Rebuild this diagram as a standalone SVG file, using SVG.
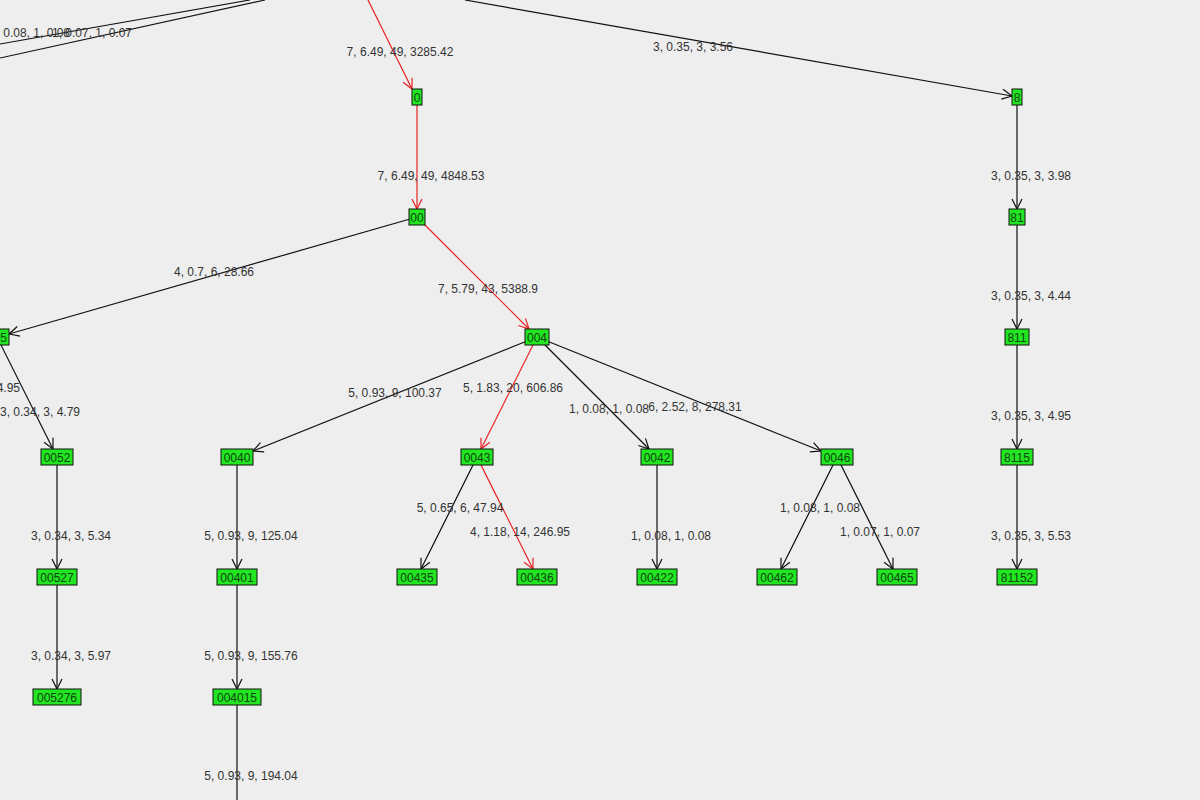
<svg xmlns="http://www.w3.org/2000/svg" width="1200" height="800" viewBox="0 0 1200 800">
<style>
.e{stroke:#111;stroke-width:1.2;fill:none;marker-end:url(#ab)}
.r{stroke:#e82020;stroke-width:1.2;fill:none;marker-end:url(#ar)}
.n rect{fill:#22e622;stroke:#111;stroke-width:1}
.n text{font-family:"Liberation Sans",Arial,sans-serif;font-size:12px;fill:#114411;text-anchor:middle}
.l{font-family:"Liberation Sans",Arial,sans-serif;font-size:12px;fill:#333;text-anchor:middle}
</style>
<defs>
<marker id="ab" markerUnits="userSpaceOnUse" markerWidth="12" markerHeight="12" refX="11" refY="6" orient="auto"><path d="M1,1 L11,6 L1,11" fill="none" stroke="#111" stroke-width="1.2"/></marker>
<marker id="ar" markerUnits="userSpaceOnUse" markerWidth="12" markerHeight="12" refX="11" refY="6" orient="auto"><path d="M1,1 L11,6 L1,11" fill="none" stroke="#e82020" stroke-width="1.2"/></marker>
</defs>
<rect width="1200" height="800" fill="#eeeeee"/>
<g id="connectors">
<path class="e" d="M250,0 L0,44" style="marker-end:none"/>
<path class="e" d="M265,0 L0,58" style="marker-end:none"/>
<path class="r" d="M368,0 L412,89"/>
<path class="e" d="M465,0 L1012,96"/>
<path class="r" d="M417,105 L417,209"/>
<path class="e" d="M417,217 L9,334"/>
<path class="r" d="M417,217 L529,329"/>
<path class="e" d="M-3,337 L53,449"/>
<path class="e" d="M57,465 L57,569"/>
<path class="e" d="M57,585 L57,689"/>
<path class="e" d="M537,337 L253,451"/>
<path class="r" d="M537,337 L481,449"/>
<path class="e" d="M537,337 L649,449"/>
<path class="e" d="M537,337 L821,451"/>
<path class="e" d="M237,465 L237,569"/>
<path class="e" d="M237,585 L237,689"/>
<path class="e" d="M237,705 L237,800" style="marker-end:none"/>
<path class="e" d="M477,457 L421,569"/>
<path class="r" d="M477,457 L533,569"/>
<path class="e" d="M657,465 L657,569"/>
<path class="e" d="M837,457 L781,569"/>
<path class="e" d="M837,457 L893,569"/>
<path class="e" d="M1017,105 L1017,209"/>
<path class="e" d="M1017,225 L1017,329"/>
<path class="e" d="M1017,345 L1017,449"/>
<path class="e" d="M1017,465 L1017,569"/>
</g>
<g id="labels">
<text class="l" x="30" y="37">1, 0.08, 1, 0.08</text>
<text class="l" x="92" y="37">1, 0.07, 1, 0.07</text>
<text class="l" x="400" y="56">7, 6.49, 49, 3285.42</text>
<text class="l" x="693" y="51">3, 0.35, 3, 3.56</text>
<text class="l" x="431" y="180">7, 6.49, 49, 4848.53</text>
<text class="l" x="214" y="276">4, 0.7, 6, 28.66</text>
<text class="l" x="488" y="293">7, 5.79, 43, 5388.9</text>
<text class="l" x="-20" y="392">3, 0.34, 3, 4.95</text>
<text class="l" x="40" y="416">3, 0.34, 3, 4.79</text>
<text class="l" x="71" y="540">3, 0.34, 3, 5.34</text>
<text class="l" x="71" y="660">3, 0.34, 3, 5.97</text>
<text class="l" x="395" y="397">5, 0.93, 9, 100.37</text>
<text class="l" x="513" y="392">5, 1.83, 20, 606.86</text>
<text class="l" x="609" y="413">1, 0.08, 1, 0.08</text>
<text class="l" x="695" y="411">6, 2.52, 8, 278.31</text>
<text class="l" x="251" y="540">5, 0.93, 9, 125.04</text>
<text class="l" x="251" y="660">5, 0.93, 9, 155.76</text>
<text class="l" x="251" y="780">5, 0.93, 9, 194.04</text>
<text class="l" x="460" y="512">5, 0.65, 6, 47.94</text>
<text class="l" x="520" y="536">4, 1.18, 14, 246.95</text>
<text class="l" x="671" y="540">1, 0.08, 1, 0.08</text>
<text class="l" x="820" y="512">1, 0.08, 1, 0.08</text>
<text class="l" x="880" y="536">1, 0.07, 1, 0.07</text>
<text class="l" x="1031" y="180">3, 0.35, 3, 3.98</text>
<text class="l" x="1031" y="300">3, 0.35, 3, 4.44</text>
<text class="l" x="1031" y="420">3, 0.35, 3, 4.95</text>
<text class="l" x="1031" y="540">3, 0.35, 3, 5.53</text>
</g>
<g id="n0" class="n"><rect x="412" y="89" width="10" height="16"/><text x="417" y="102">0</text></g>
<g id="n00" class="n"><rect x="409" y="209" width="16" height="16"/><text x="417" y="222">00</text></g>
<g id="n004" class="n"><rect x="525" y="329" width="24" height="16"/><text x="537" y="342">004</text></g>
<g id="n005" class="n"><rect x="-15" y="329" width="24" height="16"/><text x="-3" y="342">005</text></g>
<g id="n0052" class="n"><rect x="41" y="449" width="32" height="16"/><text x="57" y="462">0052</text></g>
<g id="n00527" class="n"><rect x="37" y="569" width="40" height="16"/><text x="57" y="582">00527</text></g>
<g id="n005276" class="n"><rect x="33" y="689" width="48" height="16"/><text x="57" y="702">005276</text></g>
<g id="n0040" class="n"><rect x="221" y="449" width="32" height="16"/><text x="237" y="462">0040</text></g>
<g id="n00401" class="n"><rect x="217" y="569" width="40" height="16"/><text x="237" y="582">00401</text></g>
<g id="n004015" class="n"><rect x="213" y="689" width="48" height="16"/><text x="237" y="702">004015</text></g>
<g id="n0043" class="n"><rect x="461" y="449" width="32" height="16"/><text x="477" y="462">0043</text></g>
<g id="n00435" class="n"><rect x="397" y="569" width="40" height="16"/><text x="417" y="582">00435</text></g>
<g id="n00436" class="n"><rect x="517" y="569" width="40" height="16"/><text x="537" y="582">00436</text></g>
<g id="n0042" class="n"><rect x="641" y="449" width="32" height="16"/><text x="657" y="462">0042</text></g>
<g id="n00422" class="n"><rect x="637" y="569" width="40" height="16"/><text x="657" y="582">00422</text></g>
<g id="n0046" class="n"><rect x="821" y="449" width="32" height="16"/><text x="837" y="462">0046</text></g>
<g id="n00462" class="n"><rect x="757" y="569" width="40" height="16"/><text x="777" y="582">00462</text></g>
<g id="n00465" class="n"><rect x="877" y="569" width="40" height="16"/><text x="897" y="582">00465</text></g>
<g id="n8" class="n"><rect x="1012" y="89" width="10" height="16"/><text x="1017" y="102">8</text></g>
<g id="n81" class="n"><rect x="1009" y="209" width="16" height="16"/><text x="1017" y="222">81</text></g>
<g id="n811" class="n"><rect x="1005" y="329" width="24" height="16"/><text x="1017" y="342">811</text></g>
<g id="n8115" class="n"><rect x="1001" y="449" width="32" height="16"/><text x="1017" y="462">8115</text></g>
<g id="n81152" class="n"><rect x="997" y="569" width="40" height="16"/><text x="1017" y="582">81152</text></g>
</svg>
